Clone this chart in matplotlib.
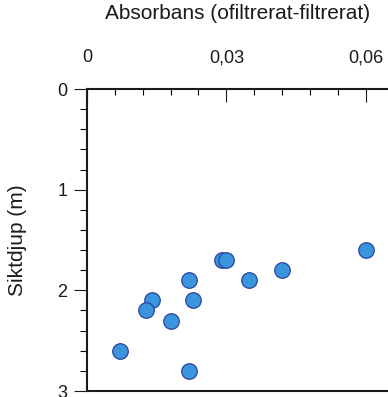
import matplotlib.pyplot as plt
from matplotlib.ticker import MultipleLocator

# absorbans (ofiltrerat - filtrerat) och siktdjup
absorbans = [0.060, 0.0291, 0.0300, 0.0420, 0.0220, 0.0349, 0.0139, 0.0229, 0.0128, 0.0180, 0.0070, 0.0220]
siktdjup = [1.60, 1.70, 1.70, 1.80, 1.90, 1.90, 2.10, 2.10, 2.20, 2.30, 2.60, 2.80]

x_ticks = [0, 0.03, 0.06]
x_ticklabels = ['0', '0,03', '0,06']
y_ticks = [0, 1, 2, 3]

plt.rcParams['font.family'] = ['Liberation Sans', 'DejaVu Sans']

fig = plt.figure(figsize=(3.88, 3.97), dpi=100)
ax = fig.add_axes([0.2242, 0.0151, 0.7758, 0.7607])

ax.scatter(absorbans, siktdjup, s=125, color='#3b95dc', edgecolor='#2a45a0',
           linewidth=0.9, zorder=3, clip_on=False)

ax.set_xlim(0, 0.0648)
ax.set_ylim(3, 0)

ax.xaxis.tick_top()
ax.xaxis.set_label_position('top')
ax.set_xticks(x_ticks)
ax.set_xticklabels(x_ticklabels)
ax.xaxis.set_minor_locator(MultipleLocator(0.006))
ax.set_yticks(y_ticks)
ax.yaxis.set_minor_locator(MultipleLocator(0.2))

ax.tick_params(axis='x', which='major', direction='in', length=9, width=0.8,
               labelsize=13, pad=16.5, colors='#1a1a1a')
ax.tick_params(axis='x', which='minor', direction='in', length=4, width=0.8, top=True, bottom=False)
ax.tick_params(axis='y', which='major', direction='out', length=9.5, width=0.8,
               labelsize=13, pad=4.5, colors='#1a1a1a')
ax.tick_params(axis='y', which='minor', direction='out', length=5, width=0.8)

for side in ['top', 'left', 'bottom']:
    ax.spines[side].set_linewidth(1.5)
    ax.spines[side].set_color('#1a1a1a')
ax.spines['right'].set_visible(False)

ax.set_xlabel('Absorbans (ofiltrerat-filtrerat)', fontsize=15, labelpad=22, color='#1a1a1a')
ax.set_ylabel('Siktdjup (m)', fontsize=15, labelpad=22, color='#1a1a1a')

plt.savefig('out.png', dpi=100)
